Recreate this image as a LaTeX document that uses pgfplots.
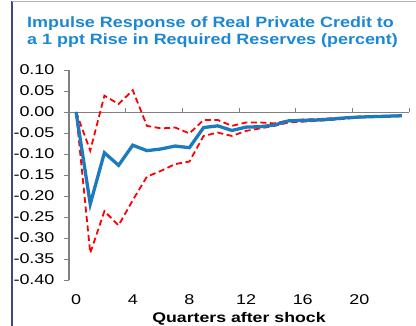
\documentclass[border=0pt]{standalone}
\usepackage{pgfplots}
\pgfplotsset{compat=1.18}
\usepackage{fontspec}
\setmainfont[FakeStretch=1.27]{Liberation Sans}
\newfontfamily\titlefont[FakeStretch=1.2]{Liberation Sans}
\definecolor{ttlblue}{RGB}{27,136,214}
\definecolor{lnblue}{RGB}{28,122,190}
\definecolor{axgray}{RGB}{128,128,128}
\definecolor{frameblue}{RGB}{60,75,125}
\begin{document}
\begin{tikzpicture}
\begin{axis}[
  at={(0,0)}, anchor=south west,
  scale only axis, width=340bp, height=210bp,
  xmin=-0.5, xmax=23.5, ymin=-0.4, ymax=0.1,
  enlargelimits=false, clip=false,
  axis lines*=left,
  x axis line style={draw=none},
  y axis line style={axgray, line width=1.3pt},
  xtick={0,4,8,12,16,20},
  ytick={-0.40,-0.35,-0.30,-0.25,-0.20,-0.15,-0.10,-0.05,0.00,0.05,0.10},
  xtick style={draw=none},
  ytick style={axgray, line width=1pt},
  tick align=outside,
  major tick length=5bp,
  tick label style={font=\fontsize{14.2}{14.2}\selectfont},
  yticklabel style={xshift=-6bp, /pgf/number format/.cd, fixed, fixed zerofill, precision=2, assume math mode=true},
  xticklabel style={yshift=-6bp, /pgf/number format/assume math mode=true},
  xlabel={\bfseries Quarters after shock},
  xlabel style={font=\fontsize{14}{14}\selectfont, at={(axis description cs:0.5,0)}, anchor=base, yshift=-42bp},
]
\draw[axgray, line width=1pt] (axis cs:-0.5,0) -- (axis cs:23.5,0);
\pgfplotsinvokeforeach{3.5,7.5,11.5,15.5,19.5,23.5}{
  \draw[axgray, line width=1pt] (axis cs:#1,0) -- ([yshift=4bp]axis cs:#1,0);
}
\addplot[red, line width=1.8pt, dash pattern=on 6bp off 3.5bp] coordinates {
(0,0) (1,-0.092) (2,0.039) (3,0.019) (4,0.052) (5,-0.033) (6,-0.039) (7,-0.037) (8,-0.051) (9,-0.019) (10,-0.019) (11,-0.033) (12,-0.025) (13,-0.025) (14,-0.027) (15,-0.020) (16,-0.018) (17,-0.017) (18,-0.015) (19,-0.013) (20,-0.011) (21,-0.010) (22,-0.009) (23,-0.008)};
\addplot[red, line width=1.8pt, dash pattern=on 6bp off 3.5bp] coordinates {
(0,0) (1,-0.336) (2,-0.236) (3,-0.270) (4,-0.210) (5,-0.154) (6,-0.140) (7,-0.124) (8,-0.118) (9,-0.057) (10,-0.049) (11,-0.057) (12,-0.045) (13,-0.039) (14,-0.033) (15,-0.025) (16,-0.023) (17,-0.021) (18,-0.019) (19,-0.016) (20,-0.013) (21,-0.011) (22,-0.010) (23,-0.009)};
\addplot[lnblue, line width=3.3pt] coordinates {
(0,0) (1,-0.219) (2,-0.097) (3,-0.127) (4,-0.079) (5,-0.092) (6,-0.088) (7,-0.081) (8,-0.085) (9,-0.037) (10,-0.033) (11,-0.044) (12,-0.036) (13,-0.035) (14,-0.031) (15,-0.021) (16,-0.020) (17,-0.019) (18,-0.017) (19,-0.014) (20,-0.012) (21,-0.011) (22,-0.010) (23,-0.009)};
\end{axis}
\draw[frameblue, line width=1.2pt] (-57bp,279bp) -- (-57bp,-46bp);
\draw[axgray!60, line width=0.8pt] (-57bp,278.5bp) -- (347bp,278.5bp);
\node[anchor=base west, inner sep=0pt, text=ttlblue, font=\titlefont\fontsize{15}{15}\selectfont\bfseries] at (-42bp,252.5bp) {Impulse Response  of Real  Private Credit to};
\node[anchor=base west, inner sep=0pt, text=ttlblue, font=\titlefont\fontsize{15}{15}\selectfont\bfseries] at (-42bp,235bp) {a 1 ppt Rise in Required  Reserves  (percent)};
\pgfresetboundingbox
\path[use as bounding box] (-69bp,-46bp) rectangle (347bp,280bp);
\end{tikzpicture}
\end{document}
